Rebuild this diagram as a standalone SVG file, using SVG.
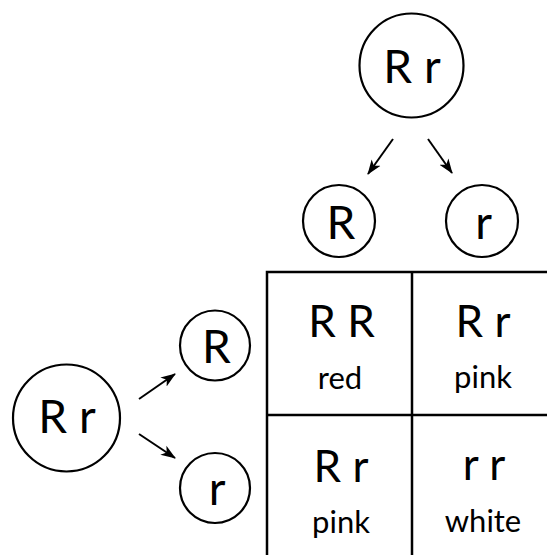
<svg xmlns="http://www.w3.org/2000/svg" width="547" height="555" viewBox="0 0 547 555">
<style>
.c{fill:#fff;stroke:#000;stroke-width:2.2}
.t,.g,.s{font-family:Lato,"Open Sans","Liberation Sans",sans-serif;text-anchor:middle;fill:#000}
.t{font-size:46px}
.g{font-size:44px}
.s{font-size:31px}
.a{stroke:#000;stroke-width:2;fill:none;marker-end:url(#ah)}
.grid{stroke:#000;stroke-width:2.5;fill:none}
</style>
<defs>
<marker id="ah" markerUnits="userSpaceOnUse" markerWidth="16" markerHeight="13" refX="14" refY="5.5" orient="auto" viewBox="0 0 16 11">
<path d="M0,0 L15,5.5 L0,11 L4,5.5 z" fill="#000"/>
</marker>
</defs>
<rect width="547" height="555" fill="#fff"/>
<g id="connectors">
<line class="a" x1="393" y1="139" x2="368" y2="174"/>
<line class="a" x1="428" y1="139" x2="452" y2="173"/>
<line class="a" x1="139" y1="399" x2="175" y2="374"/>
<line class="a" x1="139" y1="434" x2="175" y2="458"/>
</g>
<g id="parent-top">
<circle class="c" cx="411.5" cy="65.5" r="52"/>
<text class="t" x="412" y="83">R r</text>
</g>
<g id="parent-left">
<circle class="c" cx="66.5" cy="418" r="53.5"/>
<text class="t" x="67" y="433">R r</text>
</g>
<g id="gamete-top-R">
<circle class="c" cx="339" cy="221" r="36"/>
<text class="t" x="341" y="239">R</text>
</g>
<g id="gamete-top-r">
<circle class="c" cx="482" cy="221" r="36"/>
<text class="t" x="483.5" y="239">r</text>
</g>
<g id="gamete-left-R">
<circle class="c" cx="215" cy="345.5" r="35"/>
<text class="t" x="216.5" y="363">R</text>
</g>
<g id="gamete-left-r">
<circle class="c" cx="215" cy="488" r="35"/>
<text class="t" x="217" y="505">r</text>
</g>
<g id="punnett">
<path class="grid" d="M267,560 V272 H560 M412,272 V560 M267,415 H560"/>
</g>
<g id="cell-RR">
<text class="g" x="341.5" y="337">R R</text>
<text class="s" x="340" y="389">red</text>
</g>
<g id="cell-Rr-top">
<text class="g" x="483" y="337">R r</text>
<text class="s" x="483" y="388">pink</text>
</g>
<g id="cell-Rr-bottom">
<text class="g" x="341" y="482">R r</text>
<text class="s" x="341" y="533">pink</text>
</g>
<g id="cell-rr">
<text class="g" x="484" y="480">r r</text>
<text class="s" x="483" y="532">white</text>
</g>
</svg>
